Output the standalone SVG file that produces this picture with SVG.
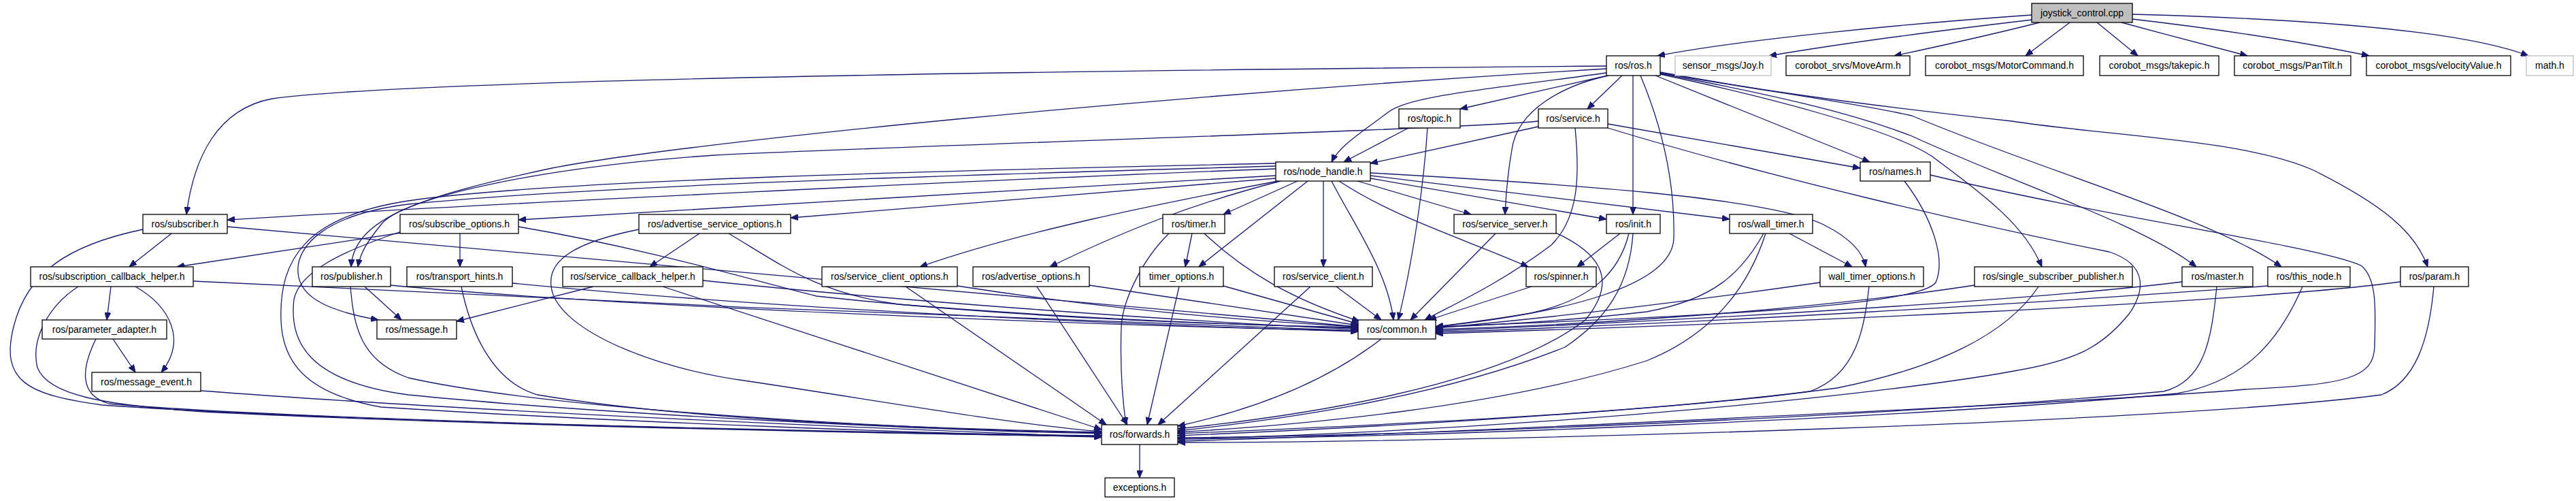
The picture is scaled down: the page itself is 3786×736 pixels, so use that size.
<svg xmlns="http://www.w3.org/2000/svg" width="3786" height="736" viewBox="0 0 3786 736">
<style>
.e{fill:none;stroke:#191970;stroke-width:1.3;marker-end:url(#ah)}
.b{fill:#ffffff;stroke:#000000;stroke-width:1.3}
.g{fill:#ffffff;stroke:#bfbfbf;stroke-width:1.3}
.f{fill:#bfbfbf;stroke:#000000;stroke-width:1.3}
text{font-family:"Liberation Sans",Arial,Helvetica,sans-serif;font-size:14px;fill:#000000;text-anchor:middle}
</style>
<defs>
<marker id="ah" markerWidth="12" markerHeight="9" refX="11" refY="4.5" orient="auto" markerUnits="userSpaceOnUse">
<path d="M0,0 L11,4.5 L0,9 z" fill="#191970" stroke="#191970" stroke-width="1"/>
</marker>
</defs>
<rect width="3786" height="736" fill="#ffffff"/>
<g id="connectors">
<path class="e" d="M2986,22 C2800,35 2560,58 2436,82"/>
<path class="e" d="M2987,29 C2850,45 2700,65 2600,82"/>
<path class="e" d="M2998,33 C2930,50 2850,68 2784,82"/>
<path class="e" d="M3042,33 L2977,82"/>
<path class="e" d="M3082,33 L3142,82"/>
<path class="e" d="M3118,33 C3180,50 3250,68 3303,82"/>
<path class="e" d="M3134,28 C3280,45 3400,65 3482,82"/>
<path class="e" d="M3134,21 C3400,28 3620,45 3716,82"/>
<path class="e" d="M2361,97 C1500,104 600,118 400,145 C320,160 285,230 274,315"/>
<path class="e" d="M2361,101 C1700,140 1000,210 811,247 C620,288 520,320 516,392"/>
<path class="e" d="M2361,107 C2200,130 2070,140 2040,165 C2000,195 1968,215 1957,238"/>
<path class="e" d="M2363,111 L2146,160"/>
<path class="e" d="M2384,111 L2333,160"/>
<path class="e" d="M2364,111 C2300,125 2230,160 2222,220 C2215,260 2213,290 2212,315"/>
<path class="e" d="M2400,111 L2400,315"/>
<path class="e" d="M2411,111 C2440,180 2462,260 2460,350 C2458,420 2300,460 2110,480"/>
<path class="e" d="M2433,111 L2748,238"/>
<path class="e" d="M2440,109 C2600,143 2780,190 2840,230 C2920,290 2975,330 3001,392"/>
<path class="e" d="M2440,108 C2600,138 2720,165 2810,200 C2950,265 3150,330 3228,392"/>
<path class="e" d="M2440,107 C2600,135 2720,150 2810,170 C3000,250 3250,320 3353,392"/>
<path class="e" d="M2440,106 C2560,128 2700,150 2957,178 C3100,200 3300,205 3400,250 C3500,300 3550,340 3568,392"/>
<path class="e" d="M2070,188 L1975,238"/>
<path class="e" d="M2098,188 C2092,280 2075,390 2055,470"/>
<path class="e" d="M2261,186 L2014,240"/>
<path class="e" d="M2261,178 C2150,190 1300,215 1050,228 C800,245 590,290 560,330 C540,355 530,370 526,392"/>
<path class="e" d="M2363,182 L2734,247"/>
<path class="e" d="M2315,188 C2322,260 2320,320 2280,360 C2200,420 2130,450 2094,470"/>
<path class="e" d="M2363,188 C2600,260 2900,330 3100,370 C3160,390 3150,430 3130,460 C3090,510 3050,530 2960,545 C2800,575 2300,630 1731,645"/>
<path class="e" d="M2799,266 C2840,320 2860,380 2845,415 C2820,450 2500,465 2110,480"/>
<path class="e" d="M2837,257 C3100,320 3400,360 3470,390 C3495,410 3491,460 3490,510 C3488,555 3450,565 3300,572 C3100,590 2000,642 1731,648"/>
<path class="e" d="M1875,248 C1500,262 700,300 334,323"/>
<path class="e" d="M1875,258 C1500,280 1100,300 762,323"/>
<path class="e" d="M1875,262 L1162,320"/>
<path class="e" d="M1878,266 C1700,300 1500,340 1352,392"/>
<path class="e" d="M1882,266 C1750,300 1650,340 1543,392"/>
<path class="e" d="M1907,266 L1798,315"/>
<path class="e" d="M1922,266 L1762,392"/>
<path class="e" d="M1945,266 L1945,392"/>
<path class="e" d="M1957,266 C1990,330 2040,400 2048,470"/>
<path class="e" d="M1968,266 C2050,320 2150,350 2246,392"/>
<path class="e" d="M1995,266 L2162,315"/>
<path class="e" d="M2014,262 L2361,322"/>
<path class="e" d="M2014,258 L2542,322"/>
<path class="e" d="M2014,254 C2300,270 2600,290 2680,330 C2720,350 2738,370 2742,392"/>
<path class="e" d="M1875,244 C1500,255 900,270 600,300 C480,315 435,360 438,400 C440,440 490,458 556,470"/>
<path class="e" d="M1875,240 C1400,250 800,265 600,295 C450,318 410,380 413,470 C415,540 460,580 560,598 C900,620 1400,638 1619,642"/>
<path class="e" d="M252,343 L190,392"/>
<path class="e" d="M334,333 C800,370 1500,440 1996,480"/>
<path class="e" d="M210,337 C100,360 40,400 20,480 C0,560 40,580 150,595 C500,620 1300,636 1619,640"/>
<path class="e" d="M590,342 L260,392"/>
<path class="e" d="M676,343 L676,392"/>
<path class="e" d="M762,333 C950,365 1100,410 1200,435 C1500,468 1800,477 1996,481"/>
<path class="e" d="M590,340 C500,370 440,400 432,440 C425,500 450,560 600,580 C900,610 1400,633 1619,637"/>
<path class="e" d="M1028,343 L955,392"/>
<path class="e" d="M1071,343 C1150,390 1200,430 1320,447 C1600,470 1850,478 1996,482"/>
<path class="e" d="M939,337 C850,355 805,380 810,420 C815,480 950,540 1100,560 C1300,590 1500,625 1619,634"/>
<path class="e" d="M872,421 L671,472"/>
<path class="e" d="M1033,412 C1300,440 1700,470 1996,484"/>
<path class="e" d="M974,421 L1619,631"/>
<path class="e" d="M163,421 L157,470"/>
<path class="e" d="M199,421 C250,450 275,500 237,547"/>
<path class="e" d="M284,413 C800,440 1500,470 1996,486"/>
<path class="e" d="M115,421 C70,450 45,500 55,540 C70,580 150,595 300,605 C700,625 1300,637 1619,641"/>
<path class="e" d="M166,498 L199,547"/>
<path class="e" d="M141,498 C120,540 115,580 160,593 C400,615 1200,636 1619,641"/>
<path class="e" d="M295,574 C700,605 1300,630 1619,642"/>
<path class="e" d="M536,421 L590,470"/>
<path class="e" d="M574,419 C900,450 1600,478 1996,486"/>
<path class="e" d="M515,421 C520,480 530,530 600,555 C800,600 1300,630 1619,636"/>
<path class="e" d="M753,416 C1100,450 1600,476 1996,487"/>
<path class="e" d="M678,421 C690,480 720,560 790,580 C1000,615 1300,628 1619,635"/>
<path class="e" d="M1407,420 C1600,450 1800,470 1996,480"/>
<path class="e" d="M1331,421 L1626,624"/>
<path class="e" d="M1601,419 L1996,478"/>
<path class="e" d="M1524,421 L1657,624"/>
<path class="e" d="M1752,343 L1742,392"/>
<path class="e" d="M1770,343 C1830,400 1900,440 1998,472"/>
<path class="e" d="M1718,343 C1680,380 1650,440 1648,480 C1646,540 1650,590 1655,624"/>
<path class="e" d="M1798,420 L1997,476"/>
<path class="e" d="M1733,421 L1686,624"/>
<path class="e" d="M1964,421 L2030,470"/>
<path class="e" d="M1926,421 L1702,624"/>
<path class="e" d="M2198,343 L2073,470"/>
<path class="e" d="M2282,340 C2350,370 2380,410 2330,470 C2200,570 1900,612 1731,630"/>
<path class="e" d="M2381,343 L2318,392"/>
<path class="e" d="M2394,343 C2380,400 2340,440 2250,460 C2180,472 2140,476 2110,480"/>
<path class="e" d="M2400,343 C2395,420 2360,470 2300,510 C2100,590 1850,620 1731,633"/>
<path class="e" d="M2251,421 L2100,470"/>
<path class="e" d="M2630,343 L2722,392"/>
<path class="e" d="M2592,343 C2560,400 2520,440 2420,458 C2300,472 2180,478 2110,481"/>
<path class="e" d="M2595,343 C2570,420 2520,490 2420,530 C2200,600 1900,625 1731,635"/>
<path class="e" d="M2675,415 C2500,440 2300,465 2110,482"/>
<path class="e" d="M2747,421 C2740,480 2730,550 2660,575 C2400,610 1900,630 1731,637"/>
<path class="e" d="M2902,419 C2700,450 2400,475 2110,484"/>
<path class="e" d="M2996,421 C2950,490 2850,540 2700,570 C2400,610 1900,633 1731,640"/>
<path class="e" d="M3207,414 C3000,440 2500,470 2110,486"/>
<path class="e" d="M3258,421 C3250,500 3240,560 3180,575 C2800,610 2100,640 1731,643"/>
<path class="e" d="M3333,420 C3000,445 2500,475 2110,488"/>
<path class="e" d="M3384,421 C3350,500 3300,560 3200,578 C2800,615 2100,642 1731,645"/>
<path class="e" d="M3528,414 C3300,445 2600,475 2110,490"/>
<path class="e" d="M3577,421 C3570,500 3550,560 3500,580 C3200,620 2200,650 1731,650"/>
<path class="e" d="M2030,498 C1950,560 1850,600 1731,626"/>
<path class="e" d="M1675,653 L1675,702"/>
</g>
<g id="n_joystick"><rect class="f" x="2986" y="5" width="148" height="28"/><text x="3060" y="24">joystick_control.cpp</text></g>
<g id="n_ros"><rect class="b" x="2361" y="82" width="79" height="29"/><text x="2400.5" y="101">ros/ros.h</text></g>
<g id="n_joy"><rect class="g" x="2462" y="82" width="141" height="29"/><text x="2532.5" y="101">sensor_msgs/Joy.h</text></g>
<g id="n_movearm"><rect class="b" x="2625" y="82" width="182" height="29"/><text x="2716" y="101">corobot_srvs/MoveArm.h</text></g>
<g id="n_motorcommand"><rect class="b" x="2830" y="82" width="232" height="29"/><text x="2946" y="101">corobot_msgs/MotorCommand.h</text></g>
<g id="n_takepic"><rect class="b" x="3086" y="82" width="175" height="29"/><text x="3173.5" y="101">corobot_msgs/takepic.h</text></g>
<g id="n_pantilt"><rect class="b" x="3284" y="82" width="171" height="29"/><text x="3369.5" y="101">corobot_msgs/PanTilt.h</text></g>
<g id="n_velocityvalue"><rect class="b" x="3478" y="82" width="212" height="29"/><text x="3584" y="101">corobot_msgs/velocityValue.h</text></g>
<g id="n_math"><rect class="g" x="3713" y="82" width="69" height="29"/><text x="3747.5" y="101">math.h</text></g>
<g id="n_topic"><rect class="b" x="2056" y="160" width="90" height="28"/><text x="2101" y="179">ros/topic.h</text></g>
<g id="n_service"><rect class="b" x="2261" y="160" width="102" height="28"/><text x="2312" y="179">ros/service.h</text></g>
<g id="n_node_handle"><rect class="b" x="1875" y="238" width="139" height="28"/><text x="1944.5" y="257">ros/node_handle.h</text></g>
<g id="n_names"><rect class="b" x="2734" y="238" width="103" height="28"/><text x="2785.5" y="257">ros/names.h</text></g>
<g id="n_subscriber"><rect class="b" x="210" y="315" width="124" height="28"/><text x="272" y="334">ros/subscriber.h</text></g>
<g id="n_subscribe_options"><rect class="b" x="588" y="315" width="174" height="28"/><text x="675" y="334">ros/subscribe_options.h</text></g>
<g id="n_advertise_service_options"><rect class="b" x="939" y="315" width="223" height="28"/><text x="1050.5" y="334">ros/advertise_service_options.h</text></g>
<g id="n_timer"><rect class="b" x="1709" y="315" width="91" height="28"/><text x="1754.5" y="334">ros/timer.h</text></g>
<g id="n_service_server"><rect class="b" x="2137" y="315" width="150" height="28"/><text x="2212" y="334">ros/service_server.h</text></g>
<g id="n_init"><rect class="b" x="2361" y="315" width="79" height="28"/><text x="2400.5" y="334">ros/init.h</text></g>
<g id="n_wall_timer"><rect class="b" x="2542" y="315" width="122" height="28"/><text x="2603" y="334">ros/wall_timer.h</text></g>
<g id="n_subscription_callback_helper"><rect class="b" x="45" y="392" width="239" height="29"/><text x="164.5" y="411">ros/subscription_callback_helper.h</text></g>
<g id="n_publisher"><rect class="b" x="459" y="392" width="115" height="29"/><text x="516.5" y="411">ros/publisher.h</text></g>
<g id="n_transport_hints"><rect class="b" x="598" y="392" width="155" height="29"/><text x="675.5" y="411">ros/transport_hints.h</text></g>
<g id="n_service_callback_helper"><rect class="b" x="827" y="392" width="206" height="29"/><text x="930" y="411">ros/service_callback_helper.h</text></g>
<g id="n_service_client_options"><rect class="b" x="1208" y="392" width="199" height="29"/><text x="1307.5" y="411">ros/service_client_options.h</text></g>
<g id="n_advertise_options"><rect class="b" x="1430" y="392" width="171" height="29"/><text x="1515.5" y="411">ros/advertise_options.h</text></g>
<g id="n_timer_options"><rect class="b" x="1675" y="392" width="123" height="29"/><text x="1736.5" y="411">timer_options.h</text></g>
<g id="n_service_client"><rect class="b" x="1873" y="392" width="144" height="29"/><text x="1945" y="411">ros/service_client.h</text></g>
<g id="n_spinner"><rect class="b" x="2243" y="392" width="103" height="29"/><text x="2294.5" y="411">ros/spinner.h</text></g>
<g id="n_wall_timer_options"><rect class="b" x="2675" y="392" width="152" height="29"/><text x="2751" y="411">wall_timer_options.h</text></g>
<g id="n_single_subscriber_publisher"><rect class="b" x="2902" y="392" width="232" height="29"/><text x="3018" y="411">ros/single_subscriber_publisher.h</text></g>
<g id="n_master"><rect class="b" x="3207" y="392" width="104" height="29"/><text x="3259" y="411">ros/master.h</text></g>
<g id="n_this_node"><rect class="b" x="3333" y="392" width="121" height="29"/><text x="3393.5" y="411">ros/this_node.h</text></g>
<g id="n_param"><rect class="b" x="3528" y="392" width="100" height="29"/><text x="3578" y="411">ros/param.h</text></g>
<g id="n_parameter_adapter"><rect class="b" x="62" y="470" width="183" height="28"/><text x="153.5" y="489">ros/parameter_adapter.h</text></g>
<g id="n_message"><rect class="b" x="554" y="470" width="117" height="28"/><text x="612.5" y="489">ros/message.h</text></g>
<g id="n_common"><rect class="b" x="1996" y="470" width="114" height="28"/><text x="2053" y="489">ros/common.h</text></g>
<g id="n_message_event"><rect class="b" x="135" y="547" width="160" height="28"/><text x="215" y="566">ros/message_event.h</text></g>
<g id="n_forwards"><rect class="b" x="1619" y="624" width="112" height="29"/><text x="1675" y="643">ros/forwards.h</text></g>
<g id="n_exceptions"><rect class="b" x="1624" y="702" width="102" height="28"/><text x="1675" y="721">exceptions.h</text></g>
</svg>
